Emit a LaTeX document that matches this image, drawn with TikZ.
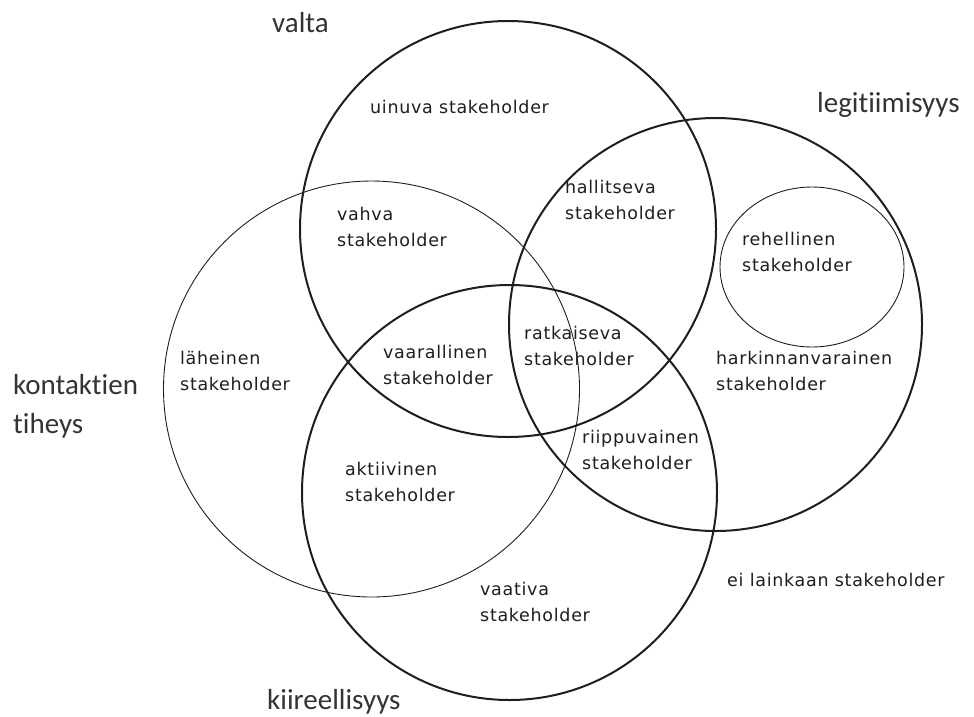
\documentclass[tikz,border=0pt]{standalone}
\usepackage{fontspec}
\usetikzlibrary{shapes.geometric}
\newfontfamily\regionfont[LetterSpace=4]{DejaVu Sans}
\newfontfamily\setnamefont[Ligatures={NoCommon,NoRequired,NoContextual}]{Carlito}
\definecolor{ink}{HTML}{1E1E1E}
\definecolor{namegray}{HTML}{333333}
\begin{document}
\begin{tikzpicture}[x=1pt,y=-1pt,
  setcircle/.style={circle, draw=ink, line width=2pt, inner sep=0pt, minimum size=#1},
  thinset/.style={circle, draw=ink, line width=0.9pt, inner sep=0pt, minimum size=#1},
  region/.style={font=\regionfont\fontsize{17.5}{25.5}\selectfont, text=ink, align=left, anchor=west, inner sep=0pt},
  setname/.style={font=\setnamefont\fontsize{29}{39}\selectfont, text=namegray, align=left, inner sep=0pt}]
\useasboundingbox (0,0) rectangle (974,716);

% the four attribute circles
\node[thinset=416pt] (kontaktit) at (371.5,389) {};
\node[setcircle=416pt] (valtaset) at (508,229) {};
\node[setcircle=413pt] (legitset) at (715.5,324.5) {};
\node[setcircle=415pt] (kiireset) at (509.5,492.5) {};
% inner ellipse inside legitimacy
\node[ellipse, draw=ink, line width=0.9pt, inner sep=0pt, minimum width=184pt, minimum height=160pt] (rehellinenset) at (812,267) {};

% names of the attributes
\node[setname, anchor=base west] (valta) at (272,32) {valta};
\node[setname, anchor=base west] (legit) at (817,112) {legitiimisyys};
\node[setname, anchor=west] (kontakti) at (13,406) {kontaktien\\tiheys};
\node[setname, anchor=base west] (kiire) at (267,709) {kiireellisyys};

% stakeholder classes
\node[region] (uinuva) at (370,107) {uinuva stakeholder};
\node[region] (vahva) at (337,227) {vahva\\stakeholder};
\node[region] (hallitseva) at (565,200) {hallitseva\\stakeholder};
\node[region] (rehellinen) at (742,252) {rehellinen\\stakeholder};
\node[region] (ratkaiseva) at (524,346) {ratkaiseva\\stakeholder};
\node[region] (laheinen) at (180,371) {läheinen\\stakeholder};
\node[region] (vaarallinen) at (383,365) {vaarallinen\\stakeholder};
\node[region] (harkinnanvarainen) at (716,371) {harkinnanvarainen\\stakeholder};
\node[region] (aktiivinen) at (345,482) {aktiivinen\\stakeholder};
\node[region] (riippuvainen) at (582,450) {riippuvainen\\stakeholder};
\node[region] (vaativa) at (480,602) {vaativa\\stakeholder};
\node[region] (eilainkaan) at (727,580) {ei lainkaan stakeholder};
\end{tikzpicture}
\end{document}
